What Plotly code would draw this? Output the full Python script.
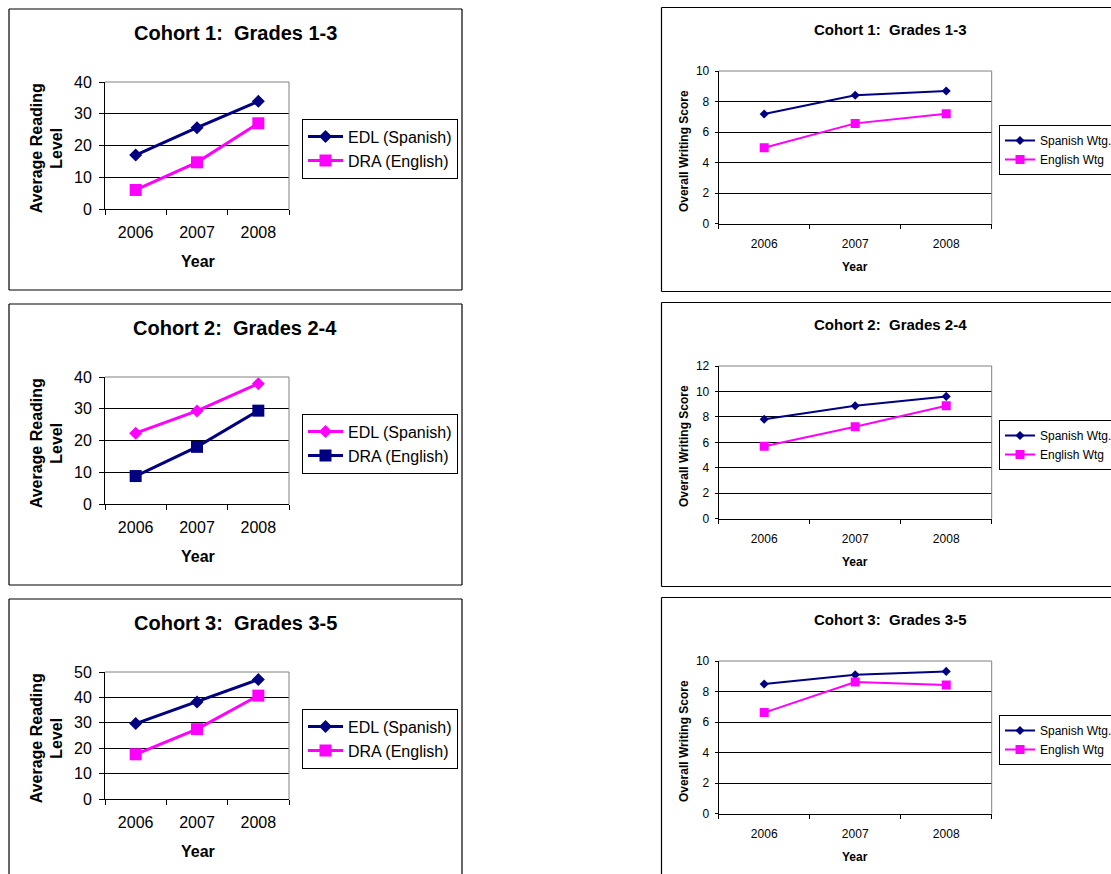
import plotly.graph_objects as go

W, H = 1111, 874

years = ["2006", "2007", "2008"]

# Reading level (left column)
c1_edl = [17.0, 25.6, 33.9]
c1_dra = [6.0, 14.7, 27.0]
c2_edl = [22.3, 29.3, 37.9]
c2_dra = [8.8, 18.0, 29.4]
c3_edl = [29.7, 38.2, 47.0]
c3_dra = [17.6, 27.5, 40.7]

# Writing score (right column)
w1_spa = [7.18, 8.41, 8.69]
w1_eng = [4.98, 6.57, 7.20]
w2_spa = [7.81, 8.88, 9.61]
w2_eng = [5.69, 7.23, 8.88]
w3_spa = [8.49, 9.10, 9.32]
w3_eng = [6.62, 8.62, 8.43]

titles = ["Cohort 1:\u00a0 Grades 1-3", "Cohort 2:\u00a0 Grades 2-4", "Cohort 3:\u00a0 Grades 3-5"]
read_names = ["EDL (Spanish)", "DRA (English)"]
writ_names = ["Spanish Wtg.", "English Wtg"]
read_ymax = [40, 40, 50]
writ_ymax = [10, 12, 10]

NAVY = "#000080"
MAG = "#FF00FF"
FONT = "Liberation Sans, Arial, sans-serif"

def px(x):
    return x / W

def py(y):
    return 1 - y / H

fig = go.Figure()
shapes = []
annotations = []
layout = {}

read_data = [(c1_edl, c1_dra, NAVY, MAG), (c2_edl, c2_dra, MAG, NAVY), (c3_edl, c3_dra, NAVY, MAG)]
writ_data = [(w1_spa, w1_eng), (w2_spa, w2_eng), (w3_spa, w3_eng)]
cat_range = [-0.5, len(years) - 0.5]

def seg(xa, ya, xb, yb, color="black", width=1.2):
    shapes.append(dict(type="line", xref="paper", yref="paper", x0=px(xa), x1=px(xb),
                       y0=py(ya), y1=py(yb), line=dict(color=color, width=width)))

idx = 0
for k in range(3):
    o = 295 * k
    # ---------- left (reading) ----------
    idx += 1
    sfx = "" if idx == 1 else str(idx)
    s1, s2, col1, col2 = read_data[k]
    lg = "legend" + sfx
    fig.add_trace(go.Scatter(x=years, y=s1, name=read_names[0], mode="lines+markers",
                             line=dict(color=col1, width=3),
                             marker=dict(symbol="diamond", size=10, color=col1),
                             xaxis="x" + sfx, yaxis="y" + sfx, legend=lg))
    fig.add_trace(go.Scatter(x=years, y=s2, name=read_names[1], mode="lines+markers",
                             line=dict(color=col2, width=3),
                             marker=dict(symbol="square", size=12, color=col2),
                             xaxis="x" + sfx, yaxis="y" + sfx, legend=lg))
    x0, x1, y0, y1 = 105, 289, 82 + o, 209 + o
    layout["xaxis" + sfx] = dict(domain=[px(x0), px(x1)], anchor="y" + sfx, type="category",
                                 range=cat_range,
                                 showline=True, linecolor="black", linewidth=1,
                                 ticks="outside", ticklen=5, tickcolor="black", tickson="boundaries",
                                 showgrid=False, tickfont=dict(size=16, color="black", family=FONT),
                                 ticklabelstandoff=9, fixedrange=True)
    layout["yaxis" + sfx] = dict(domain=[py(y1), py(y0)], anchor="x" + sfx,
                                 range=[0, read_ymax[k]], dtick=10,
                                 showline=True, linecolor="black", linewidth=1,
                                 ticks="outside", ticklen=5, tickcolor="black",
                                 showgrid=True, gridcolor="black", gridwidth=1, zeroline=False,
                                 tickfont=dict(size=16, color="black", family=FONT),
                                 ticklabelstandoff=4, fixedrange=True)
    layout[lg] = dict(x=px(302), y=py(118.7 + o), xanchor="left", yanchor="top",
                      bordercolor="black", borderwidth=1, bgcolor="white", itemwidth=35,
                      font=dict(size=16, color="black", family=FONT), traceorder="normal")
    # panel frame
    fb = min(290 + o, H)
    seg(9, 9 + o, 462, 9 + o)
    seg(9, 9 + o, 9, fb)
    seg(462, 9 + o, 462, fb)
    if 290 + o <= H:
        seg(9, fb, 462, fb)
    seg(x0, y0, x1, y0, "#808080", 1)
    seg(x1, y0, x1, y1, "#808080", 1)
    annotations.append(dict(text="<b>" + titles[k] + "</b>", x=px(235), y=py(33.3 + o),
                            xref="paper", yref="paper", showarrow=False, xanchor="center", yanchor="middle",
                            font=dict(size=20, color="black", family=FONT)))
    annotations.append(dict(text="<b>Year</b>", x=px(197.5), y=py(261.7 + o),
                            xref="paper", yref="paper", showarrow=False, xanchor="center", yanchor="middle",
                            font=dict(size=16, color="black", family=FONT)))
    annotations.append(dict(text="<b>Average Reading<br>Level</b>", x=px(47), y=py(148.3 + o),
                            xref="paper", yref="paper", showarrow=False, xanchor="center", yanchor="middle",
                            textangle=-90, font=dict(size=16, color="black", family=FONT)))

    # ---------- right (writing) ----------
    idx += 1
    sfx = str(idx)
    s1, s2 = writ_data[k]
    lg = "legend" + sfx
    fig.add_trace(go.Scatter(x=years, y=s1, name=writ_names[0], mode="lines+markers",
                             line=dict(color=NAVY, width=2),
                             marker=dict(symbol="diamond", size=7, color=NAVY),
                             xaxis="x" + sfx, yaxis="y" + sfx, legend=lg))
    fig.add_trace(go.Scatter(x=years, y=s2, name=writ_names[1], mode="lines+markers",
                             line=dict(color=MAG, width=2),
                             marker=dict(symbol="square", size=9, color=MAG),
                             xaxis="x" + sfx, yaxis="y" + sfx, legend=lg))
    x0, x1, y0, y1 = 718.7, 991.7, 71 + o, 223.7 + o
    layout["xaxis" + sfx] = dict(domain=[px(x0), px(x1)], anchor="y" + sfx, type="category",
                                 range=cat_range,
                                 showline=True, linecolor="black", linewidth=1,
                                 ticks="outside", ticklen=4, tickcolor="black", tickson="boundaries",
                                 showgrid=False, tickfont=dict(size=12, color="black", family=FONT),
                                 ticklabelstandoff=9, fixedrange=True)
    layout["yaxis" + sfx] = dict(domain=[py(y1), py(y0)], anchor="x" + sfx,
                                 range=[0, writ_ymax[k]], dtick=2,
                                 showline=True, linecolor="black", linewidth=1,
                                 ticks="outside", ticklen=3, tickcolor="black",
                                 showgrid=True, gridcolor="black", gridwidth=1, zeroline=False,
                                 tickfont=dict(size=12, color="black", family=FONT),
                                 ticklabelstandoff=3, fixedrange=True)
    layout[lg] = dict(x=px(999), y=py(125 + o), xanchor="left", yanchor="top",
                      bordercolor="black", borderwidth=1, bgcolor="white",
                      font=dict(size=12, color="black", family=FONT), traceorder="normal")
    fb = min(291.5 + o, H)
    seg(661.5, 7.5 + o, W, 7.5 + o)
    seg(661.5, 7.5 + o, 661.5, fb)
    if 291.5 + o <= H:
        seg(661.5, fb, W, fb)
    seg(x0, y0, x1, y0, "#808080", 1)
    seg(x1, y0, x1, y1, "#808080", 1)
    annotations.append(dict(text="<b>" + titles[k] + "</b>", x=px(890), y=py(29.3 + o),
                            xref="paper", yref="paper", showarrow=False, xanchor="center", yanchor="middle",
                            font=dict(size=15, color="black", family=FONT)))
    annotations.append(dict(text="<b>Year</b>", x=px(855), y=py(266.7 + o),
                            xref="paper", yref="paper", showarrow=False, xanchor="center", yanchor="middle",
                            font=dict(size=12, color="black", family=FONT)))
    annotations.append(dict(text="<b>Overall Writing Score</b>", x=px(683.3), y=py(150.8 + o),
                            xref="paper", yref="paper", showarrow=False, xanchor="center", yanchor="middle",
                            textangle=-90, font=dict(size=12, color="black", family=FONT)))

fig.update_layout(**layout)
fig.update_layout(width=W, height=H, margin=dict(l=0, r=0, t=0, b=0, pad=0, autoexpand=False),
                  paper_bgcolor="white", plot_bgcolor="white",
                  font=dict(family=FONT, color="black"),
                  shapes=shapes, annotations=annotations, hovermode=False)

fig.write_html(
    "out.html",
    config={"displayModeBar": False, "responsive": False},
    post_script=(
        "var s=document.createElement('style');"
        "s.innerHTML='html,body{margin:0!important;padding:0!important;overflow:hidden!important;}';"
        "document.head.appendChild(s);"
    ),
)
